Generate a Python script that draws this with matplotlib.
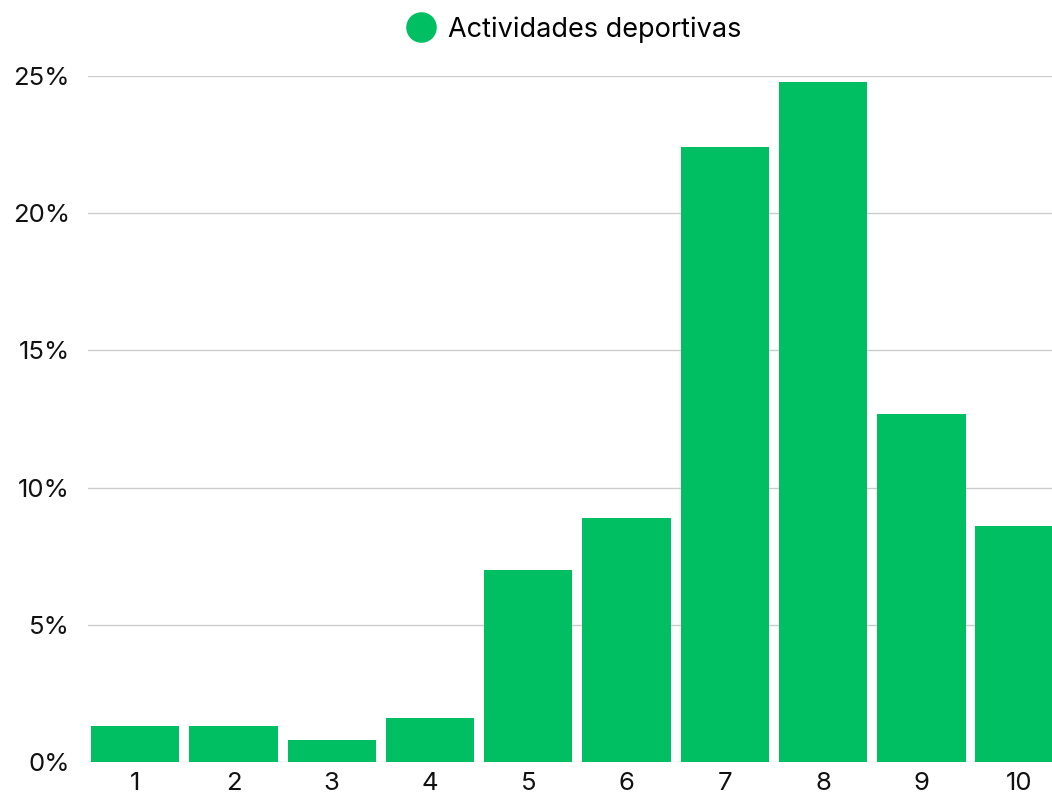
import matplotlib.pyplot as plt
from matplotlib.lines import Line2D

# Data
categories = ["1", "2", "3", "4", "5", "6", "7", "8", "9", "10"]
values = [1.3, 1.3, 0.8, 1.6, 7.0, 8.9, 22.4, 24.8, 12.7, 8.6]
series_name = "Actividades deportivas"
y_ticks = [0, 5, 10, 15, 20, 25]

green = "#00BF63"

plt.rcParams['font.family'] = ['Inter', 'DejaVu Sans']

fig = plt.figure(figsize=(10.52, 7.97), dpi=100)
ax = fig.add_axes([0.0837, 0.0439, 1 - 0.0837, 0.9046 - 0.0439])

positions = list(range(1, len(categories) + 1))
ax.bar(positions, values, width=0.9, color=green, zorder=3)

ax.set_xlim(0.52, 10.33)
ax.set_ylim(0, 25)
ax.set_yticks(y_ticks)
ax.set_yticklabels([f"{t}%" for t in y_ticks])
ax.set_xticks(positions)
ax.set_xticklabels(categories)
ax.grid(axis='y', color='#cccccc', linewidth=1, zorder=0)
ax.tick_params(axis='both', length=0, labelsize=18.5, colors='#111111')
ax.tick_params(axis='y', pad=13)
ax.tick_params(axis='x', pad=7)
for s in ax.spines.values():
    s.set_visible(False)

handle = Line2D([], [], marker='o', linestyle='', markersize=21,
                markerfacecolor=green, markeredgecolor=green)
fig.legend([handle], [series_name], loc='center', bbox_to_anchor=(0.546, 0.963),
           frameon=False, fontsize=19.5, handletextpad=0.5, handlelength=1.0)

plt.savefig("out.png", dpi=100)
